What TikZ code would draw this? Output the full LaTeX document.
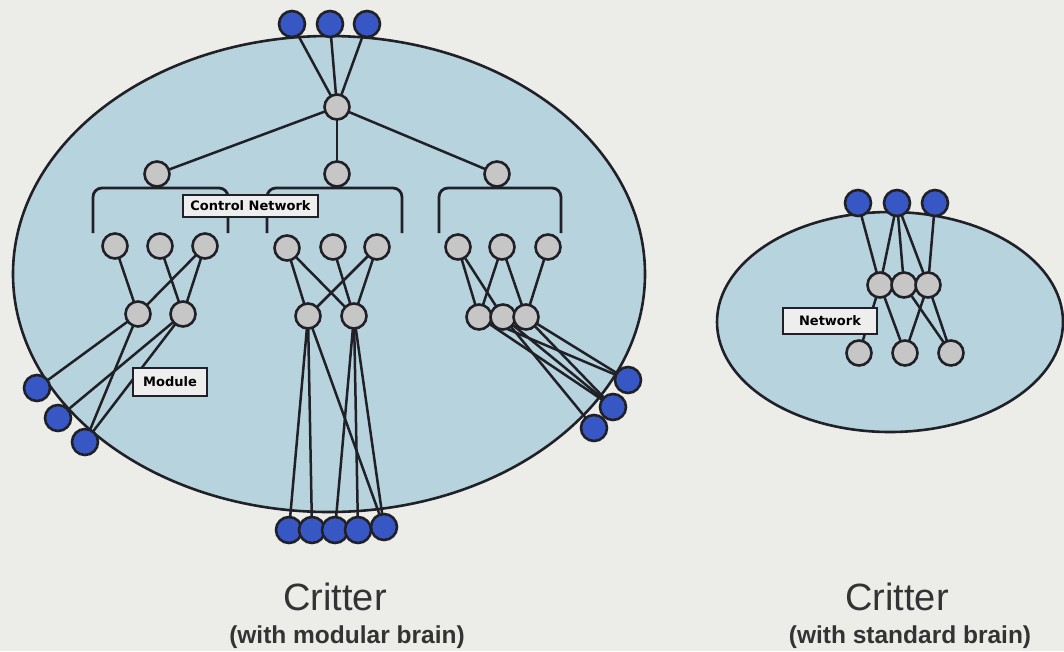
\documentclass[tikz,border=0pt]{standalone}
\usepackage{fontspec}
\setmainfont{Liberation Sans}
\newfontfamily\tagfont{DejaVu Sans}
\usetikzlibrary{positioning,backgrounds}
\definecolor{bodyblue}{RGB}{183,211,222}
\definecolor{cellgray}{RGB}{198,198,198}
\definecolor{portblue}{RGB}{55,88,196}
\definecolor{inkdark}{RGB}{32,32,38}
\definecolor{paper}{RGB}{236,237,233}
\definecolor{tagfill}{RGB}{238,238,238}

\begin{document}
\begin{tikzpicture}[x=1pt, y=-1pt,
    body/.style={draw=inkdark, line width=2.6pt, fill=bodyblue},
    cell/.style={circle, draw=inkdark, line width=2.6pt, fill=cellgray,
                 minimum size=25pt, inner sep=0pt},
    port/.style={cell, fill=portblue, minimum size=26pt},
    wire/.style={inkdark, line width=2.5pt},
    bracket/.style={inkdark, line width=2.8pt, rounded corners=9pt},
    tag/.style={draw=inkdark, line width=2.6pt, fill=tagfill, inner sep=0pt,
                font=\tagfont\bfseries\fontsize{13}{15}\selectfont},
    title/.style={font=\fontsize{38}{40}\selectfont, text=black!80, anchor=base},
    subtitle/.style={font=\bfseries\fontsize{24.5}{26}\selectfont, text=black!80, anchor=base},
  ]
  \useasboundingbox (0,0) rectangle (1064,651);

  % modular brain
  \node[port] (tA) at (292,24) {};
  \node[port] (tB) at (330,24) {};
  \node[port] (tC) at (367,24) {};
  \node[cell] (root) at (337,107) {};
  \node[cell] (hL) at (157,174) {};
  \node[cell] (hM) at (337,174) {};
  \node[cell] (hR) at (497,174) {};
  \node[cell] (a1) at (115,246) {};
  \node[cell] (a2) at (160,246) {};
  \node[cell] (a3) at (205,246) {};
  \node[cell] (b1) at (138,314) {};
  \node[cell] (b2) at (183,314) {};
  \node[cell] (c1) at (287,248) {};
  \node[cell] (c2) at (333,247) {};
  \node[cell] (c3) at (377,247) {};
  \node[cell] (d1) at (308,316) {};
  \node[cell] (d2) at (354,316) {};
  \node[cell] (e1) at (458,247) {};
  \node[cell] (e2) at (502,247) {};
  \node[cell] (e3) at (548,247) {};
  \node[cell] (f1) at (479,317) {};
  \node[cell] (f2) at (503,317) {};
  \node[cell] (f3) at (526,317) {};
  \node[port] (pl1) at (37,388) {};
  \node[port] (pl2) at (58,418) {};
  \node[port] (pl3) at (85,442) {};
  \node[port] (pb1) at (289,530) {};
  \node[port] (pb2) at (312,530) {};
  \node[port] (pb3) at (335,530) {};
  \node[port] (pb4) at (358,530) {};
  \node[port] (pb5) at (384,527) {};
  \node[port] (pr1) at (628,380) {};
  \node[port] (pr2) at (613,407) {};
  \node[port] (pr3) at (594,428) {};

  % standard brain
  \node[port] (sA) at (858,203) {};
  \node[port] (sB) at (897,203) {};
  \node[port] (sC) at (935,203) {};
  \node[cell] (g1) at (880,285) {};
  \node[cell] (g2) at (904,285) {};
  \node[cell] (g3) at (928,285) {};
  \node[cell] (k1) at (859,353) {};
  \node[cell] (k2) at (905,353) {};
  \node[cell] (k3) at (951,353) {};

  \begin{pgfonlayer}{background}
    \fill[paper] (0,0) rectangle (1064,651);
    \draw[body] (329,274) ellipse [x radius=316pt, y radius=238pt];
    \draw[body] (890,322) ellipse [x radius=173pt, y radius=110pt];
    \foreach \u/\v in {tA/root, tB/root, tC/root, root/hL, root/hM, root/hR,
        a1/b1, a2/b2, a3/b1, a3/b2, b1/pl1, b1/pl3, b2/pl2, b2/pl3,
        c1/d1, c1/d2, c2/d2, c3/d1, c3/d2,
        d1/pb1, d1/pb2, d1/pb5, d2/pb3, d2/pb4, d2/pb5,
        e1/f1, e1/f2, e2/f1, e2/f3, e3/f3,
        f1/pr1, f1/pr2, f2/pr2, f2/pr3, f3/pr1, f3/pr2,
        sA/g1, sB/g1, sB/g2, sB/g3, sC/g3,
        g1/k1, g1/k2, g2/k3, g3/k2, g3/k3}
      \draw[wire] (\u.center) -- (\v.center);
    \draw[bracket] (93,233) -- (93,188) -- (228,188) -- (228,233);
    \draw[bracket] (267,233) -- (267,188) -- (402,188) -- (402,233);
    \draw[bracket] (439,233) -- (439,188) -- (561,188) -- (561,233);
  \end{pgfonlayer}

  \node[tag, minimum width=135pt, minimum height=22pt] (ctrl) at (250.5,206) {Control Network};
  \node[tag, minimum width=74pt, minimum height=28pt] (mod) at (170,382) {Module};
  \node[tag, minimum width=94pt, minimum height=26pt] (net) at (830,321) {Network};

  \node[title] (capL) at (335,610) {Critter};
  \node[subtitle] (subL) at (347,643) {(with modular brain)};
  \node[title] (capR) at (897,610) {Critter};
  \node[subtitle] (subR) at (910,643) {(with standard brain)};
\end{tikzpicture}
\end{document}
